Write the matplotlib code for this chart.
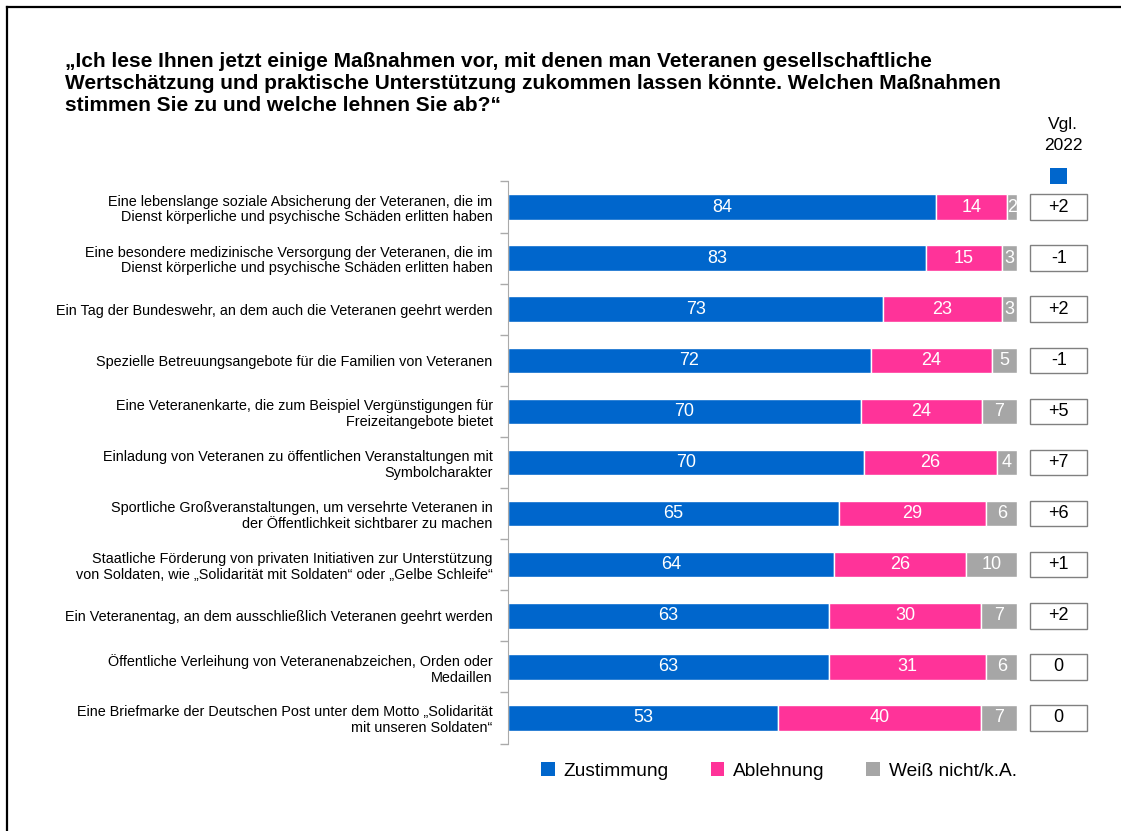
import matplotlib.pyplot as plt
from matplotlib.patches import Rectangle, Patch
from matplotlib.lines import Line2D

plt.rcParams['font.family'] = ['Liberation Sans', 'DejaVu Sans']

TITLE = ("„Ich lese Ihnen jetzt einige Maßnahmen vor, mit denen man Veteranen gesellschaftliche\n"
         "Wertschätzung und praktische Unterstützung zukommen lassen könnte. Welchen Maßnahmen\n"
         "stimmen Sie zu und welche lehnen Sie ab?“")

categories = [
    "Eine lebenslange soziale Absicherung der Veteranen, die im\nDienst körperliche und psychische Schäden erlitten haben",
    "Eine besondere medizinische Versorgung der Veteranen, die im\nDienst körperliche und psychische Schäden erlitten haben",
    "Ein Tag der Bundeswehr, an dem auch die Veteranen geehrt werden",
    "Spezielle Betreuungsangebote für die Familien von Veteranen",
    "Eine Veteranenkarte, die zum Beispiel Vergünstigungen für\nFreizeitangebote bietet",
    "Einladung von Veteranen zu öffentlichen Veranstaltungen mit\nSymbolcharakter",
    "Sportliche Großveranstaltungen, um versehrte Veteranen in\nder Öffentlichkeit sichtbarer zu machen",
    "Staatliche Förderung von privaten Initiativen zur Unterstützung\nvon Soldaten, wie „Solidarität mit Soldaten“ oder „Gelbe Schleife“",
    "Ein Veteranentag, an dem ausschließlich Veteranen geehrt werden",
    "Öffentliche Verleihung von Veteranenabzeichen, Orden oder\nMedaillen",
    "Eine Briefmarke der Deutschen Post unter dem Motto „Solidarität\nmit unseren Soldaten“",
]
zustimmung = [84, 83, 73, 72, 70, 70, 65, 64, 63, 63, 53]
ablehnung = [14, 15, 23, 24, 24, 26, 29, 26, 30, 31, 40]
weiss_nicht = [2, 3, 3, 5, 7, 4, 6, 10, 7, 6, 7]
vgl_2022 = ["+2", "-1", "+2", "-1", "+5", "+7", "+6", "+1", "+2", "0", "0"]

series_names = ["Zustimmung", "Ablehnung", "Weiß nicht/k.A."]
colors = ["#0066CC", "#FF3399", "#A6A6A6"]

fig = plt.figure(figsize=(11.21, 8.31), dpi=100)
ax = fig.add_axes([508 / 1121, 1 - 743.5 / 831, 509 / 1121, 562 / 831])

# rows are drawn as shares of 100 % (rounded values may not add up exactly)
totals = [a + b + c for a, b, c in zip(zustimmung, ablehnung, weiss_nicht)]

y = list(range(len(categories)))
left = [0] * len(categories)
for vals, color in zip([zustimmung, ablehnung, weiss_nicht], colors):
    widths = [v / t * 100 for v, t in zip(vals, totals)]
    bars = ax.barh(y, widths, left=left, height=0.5, color=color,
                   edgecolor="white", linewidth=1)
    for b, v in zip(bars, vals):
        ax.text(b.get_x() + b.get_width() / 2, b.get_y() + b.get_height() / 2,
                str(v), ha="center", va="center", color="white", fontsize=13)
    left = [l + w for l, w in zip(left, widths)]

# comparison boxes (Vgl. 2022)
for i, txt in enumerate(vgl_2022):
    ax.add_patch(Rectangle((102.6, i - 0.25), 11.2, 0.5, facecolor="white",
                           edgecolor="#808080", linewidth=1, clip_on=False))
    ax.text(108.2, i, txt, ha="center", va="center", fontsize=13, color="black")

ax.set_xlim(0, 100)
ax.set_ylim(len(categories) - 0.5, -0.5)
ax.set_yticks(y)
ax.set_yticklabels(categories, fontsize=10.4, linespacing=1.15)
ax.tick_params(axis="y", which="major", length=0, pad=11)
ax.set_yticks([i - 0.5 for i in range(len(categories) + 1)], minor=True)
ax.tick_params(axis="y", which="minor", length=6, color="#AAAAAA", width=1)
ax.set_xticks([])
for side in ["top", "right", "bottom"]:
    ax.spines[side].set_visible(False)
ax.spines["left"].set_color("#AAAAAA")

fig.text(65 / 1121, 1 - 52 / 831, TITLE, ha="left", va="top", fontsize=15,
         fontweight="bold", linespacing=1.2)
fig.text(1063 / 1121, 1 - 135 / 831, "Vgl.\n2022", ha="center", va="center",
         fontsize=12.5, linespacing=1.55)
fig.patches.append(Rectangle((1050 / 1121, 1 - 184 / 831), 17 / 1121, 16 / 831,
                             transform=fig.transFigure, facecolor=colors[0],
                             edgecolor="none"))

# frame lines (top and left)
fig.add_artist(Line2D([7 / 1121, 1], [1 - 7 / 831, 1 - 7 / 831], color="black", linewidth=1.6))
fig.add_artist(Line2D([7 / 1121, 7 / 1121], [0, 1 - 7 / 831], color="black", linewidth=1.6))

handles = [Patch(facecolor=c, edgecolor="none") for c in colors]
fig.legend(handles, series_names, loc="center", bbox_to_anchor=(779 / 1121, 1 - 771 / 831),
           ncol=3, frameon=False, fontsize=13.8, handlelength=0.7, handleheight=0.7,
           handletextpad=0.45, columnspacing=2.2)

fig.savefig("out.png", dpi=100)
